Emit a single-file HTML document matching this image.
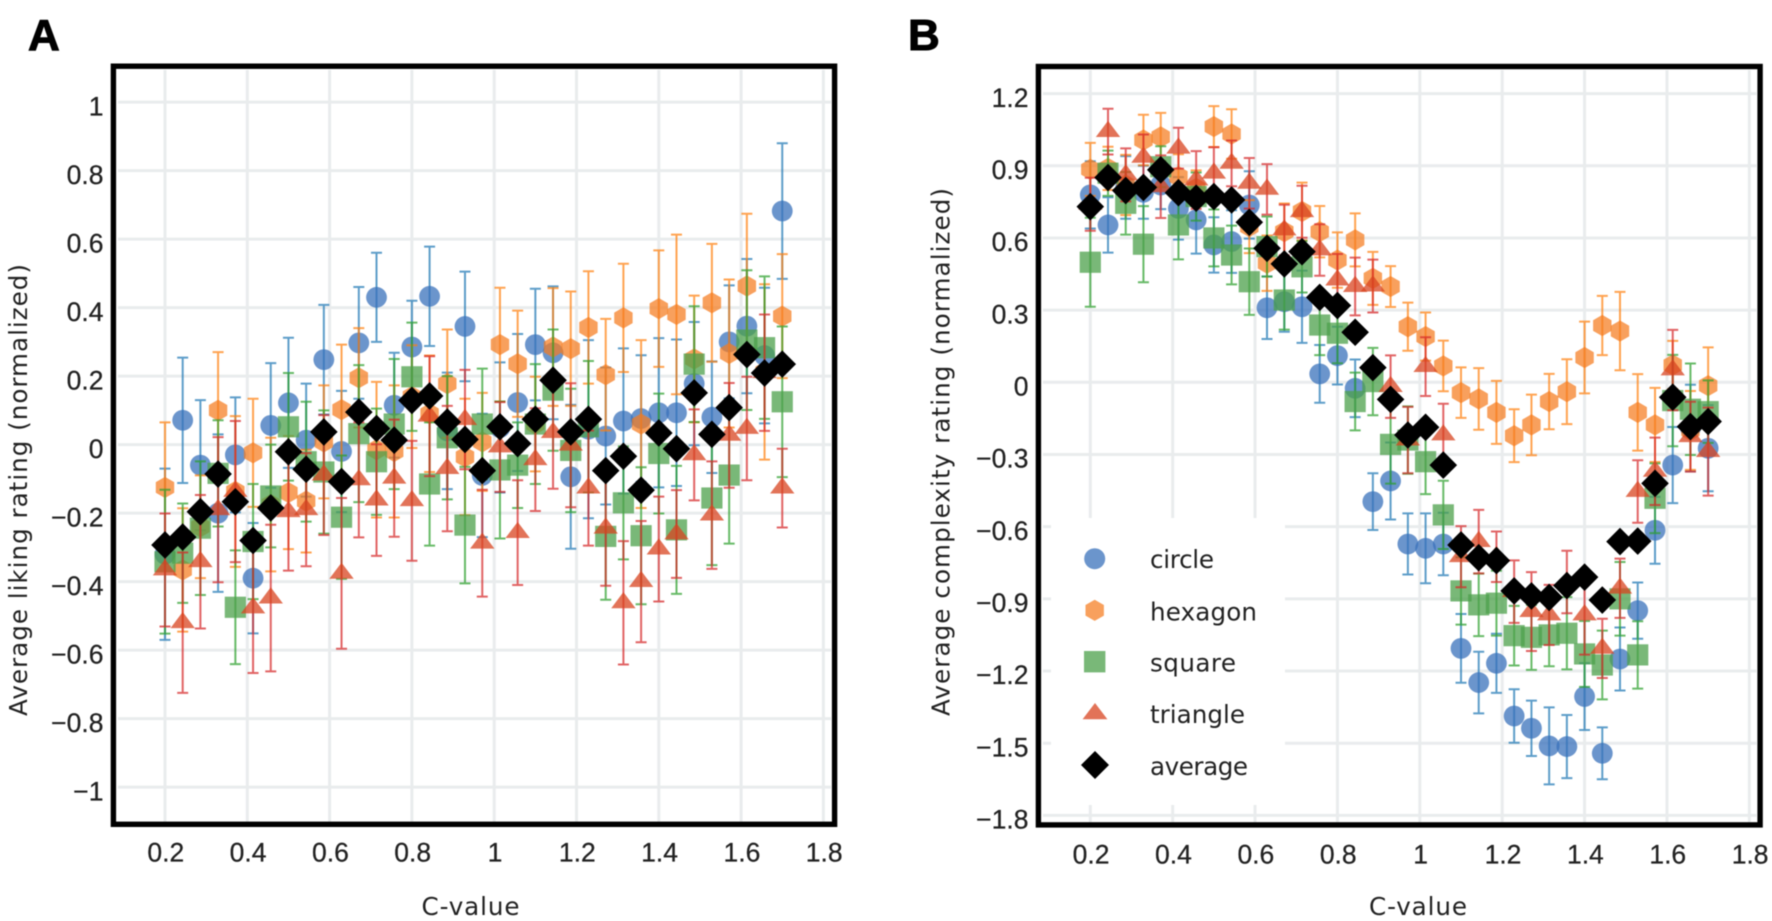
<!DOCTYPE html>
<html lang="en">
<head>
<meta charset="utf-8">
<title>Average liking and complexity ratings by C-value</title>
<style>
html,body{margin:0;padding:0;background:#fff;width:1772px;height:921px;overflow:hidden}
svg{display:block;filter:blur(.4px)}
text{font-family:"Liberation Sans",sans-serif;fill:#222;font-size:26.5px;stroke:#222;stroke-width:.25}
.word{font-family:"DejaVu Sans",sans-serif;font-size:24.6px;stroke-width:0}
.panel-letter{font-weight:700;font-size:44px;fill:#000;stroke:#000;stroke-width:1}
</style>
</head>
<body>
<svg id="figure" width="1772" height="921" viewBox="0 0 1772 921" xmlns="http://www.w3.org/2000/svg">
  <rect x="0" y="0" width="1772" height="921" fill="#fff"/>
  <text class="panel-letter" x="28" y="50">A</text>
  <text class="panel-letter" x="908" y="50">B</text>

  <g id="panelA"></g>
  <g id="panelB"></g>

  <text class="word" x="421.5" y="915" textLength="98">C-value</text>
  <text class="word" x="1369" y="915" textLength="98">C-value</text>
  <text class="word" transform="translate(27,716) rotate(-90)" textLength="452">Average liking rating (normalized)</text>
  <text class="word" transform="translate(949.5,716) rotate(-90)" textLength="528">Average complexity rating (normalized)</text>

  <g id="legendLayer">
    <g>
      <circle cx="1094.7" cy="558.7" r="10.5" fill="rgba(58,114,187,.75)"/>
      <text class="word" x="1150" y="568" textLength="64">circle</text>
    </g>
    <g>
      <polygon points="1094.7,599.7 1103.9,605 1103.9,615.6 1094.7,620.9 1085.5,615.6 1085.5,605" fill="rgba(245,124,31,.72)"/>
      <text class="word" x="1150" y="620.7" textLength="107">hexagon</text>
    </g>
    <g>
      <rect x="1084" y="651" width="21.4" height="21.4" fill="rgba(76,160,75,.75)"/>
      <text class="word" x="1150" y="671.7" textLength="86">square</text>
    </g>
    <g>
      <polygon points="1095,703 1107.4,719.2 1082.6,719.2" fill="rgba(216,68,32,.75)"/>
      <text class="word" x="1150" y="723" textLength="95">triangle</text>
    </g>
    <g>
      <polygon points="1095,751 1109,765 1095,779 1081,765" fill="#000"/>
      <text class="word" x="1150" y="775" textLength="98">average</text>
    </g>
  </g>
</svg>

<script>
// Shared categories
const cValues = [0.2,0.243,0.286,0.329,0.371,0.414,0.457,0.5,0.543,0.586,0.629,0.671,0.714,0.757,0.8,0.843,0.886,0.929,0.971,1.014,1.057,1.1,1.143,1.186,1.229,1.271,1.314,1.357,1.4,1.443,1.486,1.529,1.571,1.614,1.657,1.7];

// Tick values and labels
const xTickValues = [0.2,0.4,0.6,0.8,1,1.2,1.4,1.6,1.8];
const xTickLabels = ["0.2","0.4","0.6","0.8","1","1.2","1.4","1.6","1.8"];
const likingTickValues = [1,0.8,0.6,0.4,0.2,0,-0.2,-0.4,-0.6,-0.8,-1];
const likingTickLabels = ["1","0.8","0.6","0.4","0.2","0","\u22120.2","\u22120.4","\u22120.6","\u22120.8","\u22121"];
const complexityTickValues = [1.2,0.9,0.6,0.3,0,-0.3,-0.6,-0.9,-1.2,-1.5,-1.8];
const complexityTickLabels = ["1.2","0.9","0.6","0.3","0","\u22120.3","\u22120.6","\u22120.9","\u22121.2","\u22121.5","\u22121.8"];

// Panel A: liking
const likingCircle = [-.32,.071,-.06,-.2,-.03,-.39,.056,.122,.013,.248,-.02,.297,.43,.115,.285,.433,.04,.345,-.09,.05,.123,.292,.268,-.094,.045,.025,.069,.076,.093,.093,.178,.08,.3,.346,.26,.682];
const likingCircleErr = [.25,.183,.19,.23,.168,.161,.182,.19,.165,.16,.177,.163,.13,.153,.135,.145,.17,.16,.18,.19,.2,.163,.194,.21,.26,.2,.212,.185,.218,.214,.18,.163,.165,.196,.198,.198];
const likingHexagon = [-.125,-.366,-.24,.1,-.137,-.024,-.175,-.14,-.165,.008,.102,.195,-.015,-.02,.14,.09,.178,-.036,.008,.292,.236,.06,.285,.28,.342,.204,.37,.06,.397,.38,.25,.414,.266,.463,.212,.375];
const likingHexagonErr = [.19,.18,.15,.17,.22,.158,.195,.165,.15,.165,.19,.145,.198,.193,.15,.17,.158,.17,.143,.166,.155,.138,.172,.167,.164,.163,.158,.245,.17,.233,.185,.172,.216,.211,.256,.181];
const likingSquare = [-.342,-.317,-.244,-.084,-.475,-.283,-.15,.052,-.05,-.08,-.212,.032,-.05,.06,.198,-.115,.02,-.235,.06,-.074,-.06,.06,.159,-.017,.052,-.268,-.17,-.266,-.026,-.249,.235,-.156,-.089,.305,.283,.125];
const likingSquareErr = [.21,.145,.195,.155,.166,.168,.15,.157,.175,.18,.18,.2,.155,.19,.158,.18,.18,.17,.162,.2,.125,.175,.177,.18,.192,.185,.165,.2,.175,.187,.169,.196,.2,.204,.208,.22];
const likingTriangle = [-.366,-.52,-.342,-.19,-.137,-.477,-.448,-.196,-.19,-.089,-.376,-.103,-.162,-.098,-.164,.083,-.07,.073,-.288,-.007,-.257,-.044,.035,-.002,-.127,-.244,-.462,-.4,-.305,-.261,-.03,-.206,.027,.047,.21,-.127];
const likingTriangleErr = [.165,.205,.195,.212,.206,.19,.214,.172,.165,.175,.22,.168,.163,.171,.175,.175,.183,.145,.156,.131,.153,.15,.164,.181,.168,.168,.18,.177,.153,.128,.133,.157,.153,.151,.17,.115];
const likingAverage = [-.293,-.27,-.196,-.086,-.167,-.28,-.185,-.021,-.072,.037,-.108,.095,.047,.013,.129,.142,.066,.015,-.076,.052,.003,.074,.188,.037,.074,-.076,-.034,-.133,.034,-.012,.151,.03,.108,.263,.209,.235];

// Panel B: complexity
const complexityCircle = [.779,.654,.81,.79,.82,.723,.675,.571,.585,.737,.31,.335,.314,.035,.111,-.025,-.496,-.41,-.672,-.69,-.672,-1.106,-1.248,-1.168,-1.387,-1.438,-1.511,-1.514,-1.306,-1.542,-1.15,-.949,-.615,-.344,-.19,-.274];
const complexityCircleErr = [.14,.115,.13,.11,.1,.13,.14,.115,.13,.14,.13,.125,.15,.12,.12,.12,.118,.16,.127,.145,.13,.143,.128,.123,.111,.115,.16,.131,.139,.108,.131,.117,.139,.158,.18,.179];
const complexityHexagon = [.885,.889,.82,1.007,1.02,.855,.806,1.063,1.032,.647,.495,.626,.71,.626,.508,.592,.432,.398,.231,.19,.068,-.043,-.069,-.125,-.222,-.177,-.08,-.039,.103,.236,.213,-.125,-.177,.072,-.2,-.014];
const complexityHexagonErr = [.11,.09,.125,.105,.1,.093,.075,.085,.103,.11,.115,.117,.12,.107,.115,.11,.11,.085,.1,.1,.105,.105,.128,.131,.11,.126,.115,.135,.149,.123,.163,.159,.154,.1,.164,.159];
const complexitySquare = [.499,.869,.744,.574,.896,.654,.772,.6,.529,.418,.564,.342,.48,.238,.204,-.08,.003,-.258,-.24,-.33,-.551,-.867,-.925,-.918,-1.053,-1.06,-1.05,-1.043,-1.129,-1.175,-.9,-1.133,-.482,-.076,-.112,-.122];
const complexitySquareErr = [.185,.094,.13,.158,.085,.143,.1,.118,.122,.138,.125,.123,.107,.125,.125,.12,.14,.163,.14,.135,.142,.14,.13,.135,.124,.135,.13,.15,.137,.143,.153,.14,.145,.19,.19,.13];
const complexityTriangle = [.74,1.042,.862,.935,.813,.973,.841,.869,.91,.827,.802,.633,.709,.55,.425,.398,.4,-.018,-.24,.065,-.219,-.725,-.662,-.725,-.87,-.953,-.967,-.83,-.967,-1.106,-.856,-.454,-.37,.051,-.226,-.288];
const complexityTriangleErr = [.11,.095,.11,.095,.13,.085,.12,.108,.095,.105,.105,.105,.108,.107,.108,.12,.11,.13,.138,.122,.13,.127,.132,.105,.13,.164,.125,.13,.165,.123,.123,.13,.14,.167,.145,.183];
const complexityAverage = [.73,.851,.797,.81,.883,.788,.765,.772,.758,.665,.557,.492,.543,.353,.319,.208,.061,-.071,-.219,-.187,-.344,-.676,-.729,-.741,-.867,-.888,-.894,-.845,-.81,-.905,-.662,-.66,-.42,-.062,-.184,-.163];

const NS = "http://www.w3.org/2000/svg";
function el(parent, tag, attrs, txt) {
  const n = document.createElementNS(NS, tag);
  for (const k in attrs) n.setAttribute(k, attrs[k]);
  if (txt !== undefined) n.textContent = txt;
  parent.appendChild(n);
  return n;
}
const xLiking = v => 165 + (v - 0.2) * 411.5;
const yLiking = v => 444.6 - v * 342.5;
const xComplexity = v => 1090.3 + (v - 0.2) * 411.9;
const yComplexity = v => 382.3 - v * 240.6;

const fills = {
  circle: "rgba(58,114,187,.75)",
  hexagon: "rgba(245,124,31,.72)",
  square: "rgba(76,160,75,.75)",
  triangle: "rgba(216,68,32,.75)",
  average: "#000"
};
const errColors = {
  circle: "rgba(31,119,180,.72)",
  hexagon: "rgba(255,127,14,.72)",
  square: "rgba(44,160,44,.72)",
  triangle: "rgba(214,39,40,.72)"
};

function drawMarker(g, kind, cx, cy) {
  let m;
  if (kind === "circle") {
    m = el(g, "circle", {cx: cx, cy: cy, r: 10.4, fill: fills.circle});
  } else if (kind === "hexagon") {
    const R = 10.6, w = 9.2, h = 5.3;
    m = el(g, "polygon", {points: [[cx,cy-R],[cx+w,cy-h],[cx+w,cy+h],[cx,cy+R],[cx-w,cy+h],[cx-w,cy-h]].map(p => p.join(",")).join(" "), fill: fills.hexagon});
  } else if (kind === "square") {
    m = el(g, "rect", {x: cx-10.6, y: cy-10.6, width: 21.2, height: 21.2, fill: fills.square});
  } else if (kind === "triangle") {
    m = el(g, "polygon", {points: [[cx,cy-10.8],[cx+12.2,cy+5.4],[cx-12.2,cy+5.4]].map(p => p.join(",")).join(" "), fill: fills.triangle});
  } else {
    const D = 13.8;
    m = el(g, "polygon", {points: [[cx,cy-D],[cx+D,cy],[cx,cy+D],[cx-D,cy]].map(p => p.join(",")).join(" "), fill: fills.average});
  }
  
  
}

function drawSeries(root, prefix, kind, values, errs, xf, yf) {
  const g = el(root, "g", {});
  
  
  values.forEach((v, i) => {
    const cx = xf(cValues[i]), cy = yf(v);
    if (errs) {
      const hi = yf(v + errs[i]), lo = yf(v - errs[i]);
      const bar = el(g, "path", {
        d: "M" + cx + " " + hi + "V" + lo + "M" + (cx-5.5) + " " + hi + "H" + (cx+5.5) + "M" + (cx-5.5) + " " + lo + "H" + (cx+5.5),
        fill: "none", stroke: errColors[kind], "stroke-width": 2
      });
      
      
    }
    drawMarker(g, kind, cx, cy);
  });
}

function drawPanel(cfg) {
  const root = document.getElementById(cfg.id);
  const grid = el(root, "g", {});
  
  
  xTickValues.forEach(v => {
    const line = el(grid, "line", {x1: cfg.x(v), x2: cfg.x(v), y1: cfg.top + 1, y2: cfg.bottom, stroke: "#e9eced", "stroke-width": 3});
    
    
  });
  cfg.yTicks.forEach(v => {
    const line = el(grid, "line", {x1: cfg.left + 2, x2: cfg.right - 1, y1: cfg.y(v), y2: cfg.y(v), stroke: "#e9eced", "stroke-width": 3});
    
    
  });
  if (cfg.legendBox) {
    const box = el(root, "rect", {x: cfg.legendBox[0], y: cfg.legendBox[1], width: cfg.legendBox[2], height: cfg.legendBox[3], fill: "#fff"});
    
    
  }
  drawSeries(root, cfg.prefix, "circle", cfg.circle, cfg.circleErr, cfg.x, cfg.y);
  drawSeries(root, cfg.prefix, "hexagon", cfg.hexagon, cfg.hexagonErr, cfg.x, cfg.y);
  drawSeries(root, cfg.prefix, "square", cfg.square, cfg.squareErr, cfg.x, cfg.y);
  drawSeries(root, cfg.prefix, "triangle", cfg.triangle, cfg.triangleErr, cfg.x, cfg.y);
  drawSeries(root, cfg.prefix, "average", cfg.average, null, cfg.x, cfg.y);

  const frame = el(root, "rect", {x: cfg.left - 2.6, y: cfg.top - 2.8, width: cfg.right - cfg.left + 5.2, height: cfg.bottom - cfg.top + 5.4, fill: "none", stroke: "#000", "stroke-width": 5.4});
  
  

  xTickValues.forEach((v, i) => {
    const t = el(root, "text", {x: cfg.x(v) + 0.8, y: cfg.xTickY, "text-anchor": "middle"}, xTickLabels[i]);
    
    
  });
  cfg.yTicks.forEach((v, i) => {
    const t = el(root, "text", {x: cfg.yTickX, y: cfg.y(v) + 13.2, "text-anchor": "end"}, cfg.yLabels[i]);
    
    
  });
}

drawPanel({
  id: "panelA", prefix: "liking", x: xLiking, y: yLiking,
  left: 116, right: 832, top: 69, bottom: 821.7,
  xTickY: 861.7, yTickX: 103.5,
  yTicks: likingTickValues, yLabels: likingTickLabels,
  circle: likingCircle, circleErr: likingCircleErr,
  hexagon: likingHexagon, hexagonErr: likingHexagonErr,
  square: likingSquare, squareErr: likingSquareErr,
  triangle: likingTriangle, triangleErr: likingTriangleErr,
  average: likingAverage
});
drawPanel({
  id: "panelB", prefix: "complexity", x: xComplexity, y: yComplexity,
  left: 1041, right: 1757.5, top: 69.3, bottom: 822.3,
  xTickY: 863.3, yTickX: 1028.5,
  yTicks: complexityTickValues, yLabels: complexityTickLabels,
  legendBox: [1051, 518, 234, 287],
  circle: complexityCircle, circleErr: complexityCircleErr,
  hexagon: complexityHexagon, hexagonErr: complexityHexagonErr,
  square: complexitySquare, squareErr: complexitySquareErr,
  triangle: complexityTriangle, triangleErr: complexityTriangleErr,
  average: complexityAverage
});
</script>
</body>
</html>
